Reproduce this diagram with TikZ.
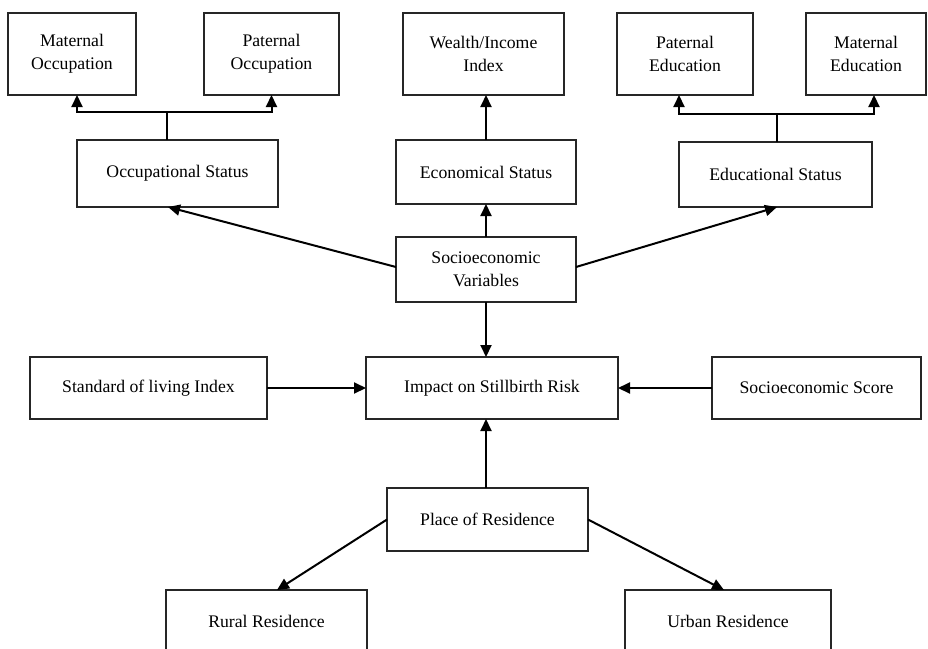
\documentclass[tikz,border=0pt]{standalone}
\usepackage{fontspec}
\setmainfont{Liberation Serif}
\usetikzlibrary{arrows.meta,calc}
\begin{document}
\begin{tikzpicture}[x=1pt,y=-1pt,
  box/.style={draw=black!85,line width=1.4pt,inner sep=0pt,outer sep=0pt,align=center,
    font=\fontsize{17.7}{23}\selectfont},
  arr/.style={line width=2pt,-{Triangle[length=12pt,width=11pt]}},
  ln/.style={line width=2pt}]
\path[use as bounding box,clip] (0,0) rectangle (928,648);
\fill[white] (0,0) rectangle (928,648);
% top row
\node[box,minimum width=128,minimum height=82] (matocc) at (72,54) {Maternal\\Occupation};
\node[box,minimum width=135,minimum height=82] (patocc) at (271.5,54) {Paternal\\Occupation};
\node[box,minimum width=161,minimum height=82] (wealth) at (483.5,54) {Wealth/Income\\Index};
\node[box,minimum width=136,minimum height=82] (patedu) at (685,54) {Paternal\\Education};
\node[box,minimum width=120,minimum height=82] (matedu) at (866,54) {Maternal\\Education};
% second row
\node[box,minimum width=201,minimum height=67] (occ) at (177.5,173.5) {Occupational Status};
\node[box,minimum width=180,minimum height=64] (eco) at (486,172) {Economical Status};
\node[box,minimum width=193,minimum height=65] (edu) at (775.5,174.5) {Educational Status};
% center
\node[box,minimum width=180,minimum height=65] (socvar) at (486,269.5) {Socioeconomic\\Variables};
\node[box,minimum width=237,minimum height=62] (std) at (148.5,388) {Standard of living Index};
\node[box,minimum width=252,minimum height=62] (impact) at (492,388) {Impact on Stillbirth Risk};
\node[box,minimum width=209,minimum height=62] (score) at (816.5,388) {Socioeconomic Score};
\node[box,minimum width=201,minimum height=63] (place) at (487.5,519.5) {Place of Residence};
\node[box,minimum width=201,minimum height=62] (rural) at (266.5,621) {Rural Residence};
\node[box,minimum width=206,minimum height=62] (urban) at (728,621) {Urban Residence};
% occupation branch
\coordinate (occj) at ([xshift=-10.5pt]occ.north |- 0,112);
\draw[ln] ([xshift=-10.5pt]occ.north) -- (occj);
\draw[arr] (occj) -| ([xshift=5pt]matocc.south);
\draw[arr] (occj) -| (patocc.south);
% education branch
\coordinate (eduj) at ([xshift=1.5pt]edu.north |- 0,114);
\draw[ln] ([xshift=1.5pt]edu.north) -- (eduj);
\draw[arr] (eduj) -| ([xshift=-6pt]patedu.south);
\draw[arr] (eduj) -| ([xshift=8pt]matedu.south);
% economic branch
\draw[arr] (eco.north) -- (eco.north |- wealth.south);
\draw[arr] (socvar.north) -- (socvar.north |- eco.south);
\draw[arr] ([yshift=2.5pt]socvar.west) -- ([xshift=-9.5pt]occ.south);
\draw[arr] ([yshift=2.5pt]socvar.east) -- ([xshift=1.5pt]edu.south);
\draw[arr] (socvar.south) -- (socvar.south |- impact.north);
% side inputs
\draw[arr] (std.east) -- (impact.west);
\draw[arr] (score.west) -- (impact.east);
% residence
\draw[arr] ([xshift=-1.5pt]place.north) -- ([xshift=-1.5pt]place.north |- impact.south);
\draw[arr] (place.west) -- ([xshift=10.5pt]rural.north);
\draw[arr] (place.east) -- ([xshift=-4pt]urban.north);
\end{tikzpicture}
\end{document}
